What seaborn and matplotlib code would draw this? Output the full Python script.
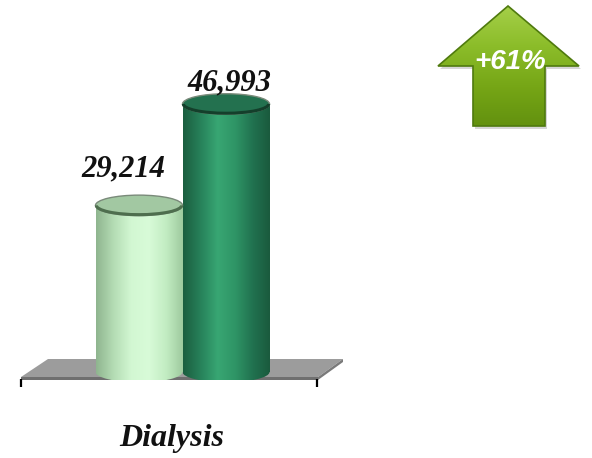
import numpy as np
import pandas as pd
import matplotlib
matplotlib.use("Agg")
import matplotlib.pyplot as plt
import seaborn as sns
from matplotlib.patches import Ellipse, Polygon, Arc
from matplotlib.colors import LinearSegmentedColormap

# ---- data ----
category = ["Dialysis", "Dialysis"]
period = ["Before", "After"]
cases = [29214, 46993]
value_labels = ["29,214", "46,993"]
change_label = "+61%"

df = pd.DataFrame({"group": category, "period": period, "cases": cases})

sns.set_theme(style="white")
plt.rcParams["font.family"] = ["Liberation Serif", "DejaVu Serif"]

W, H = 592, 458
fig = plt.figure(figsize=(W / 100, H / 100), dpi=100)
fig.patch.set_facecolor("white")

# pixel-space helper axes (background floor / foreground arrow)
bg = fig.add_axes([0, 0, 1, 1], zorder=0)
bg.set_xlim(0, W)
bg.set_ylim(H, 0)
bg.axis("off")

# floor of the 3-D plot area
floor = Polygon([(21, 377), (318, 377), (343, 359), (48, 359)],
                closed=True, facecolor="#9c9c9c", edgecolor="none")
bg.add_patch(floor)
bg.add_patch(Polygon([(21, 377), (318, 377), (318, 380), (21, 380)],
                     closed=True, facecolor="#6f6f6f", edgecolor="none"))
bg.add_patch(Polygon([(318, 377), (343, 359), (343, 362), (318, 380)],
                     closed=True, facecolor="#7a7a7a", edgecolor="none"))
for tx in (21, 317):
    bg.plot([tx, tx], [379, 387], color="black", lw=1.6, solid_capstyle="butt")

# main chart axes
ax = fig.add_axes([22 / W, (H - 380) / H, 300 / W, 350 / H], zorder=1)
ax.patch.set_alpha(0)
sns.barplot(data=df, x="group", y="cases", hue="period",
            palette=["#c8f0c8", "#2f9565"], width=0.58, dodge=True,
            legend=False, ax=ax, zorder=2)
ax.set_xlim(-0.535, 0.465)
ax.set_ylim(-1403, 59968)
for s in ax.spines.values():
    s.set_visible(False)
ax.set_yticks([])
ax.set_xticks([])
ax.set_ylabel("")
ax.set_xlabel("Dialysis", fontsize=23, fontstyle="italic", fontweight="bold",
              labelpad=32, color="#111111")

cmaps = [
    LinearSegmentedColormap.from_list(
        "light", ["#8fb58f", "#b4dcb4", "#d2f7d2", "#d8fbd8", "#c2ecc2", "#9cc89c"]),
    LinearSegmentedColormap.from_list(
        "dark", ["#1b5e3f", "#27815a", "#38a673", "#2f9566", "#217250", "#1a5a3d"]),
]
cap_face = ["#a2c8a2", "#23714f"]
cap_rim = ["#4e6e4e", "#143f2b"]
cap_h = 3600
grad = np.linspace(0, 1, 256).reshape(1, -1)

bars = [p for p in ax.patches if p.get_height() > 0]
bars.sort(key=lambda p: p.get_x())
for i, bar in enumerate(bars):
    x0, w, v = bar.get_x(), bar.get_width(), bar.get_height()
    xc = x0 + w / 2
    bar.set_facecolor("#7f7f7f")
    bar.set_edgecolor("none")
    bottom = Ellipse((xc, 0), w, cap_h, facecolor="none", edgecolor="none")
    ax.add_patch(bottom)
    for clip in (bar, bottom):
        im = ax.imshow(grad, cmap=cmaps[i], aspect="auto",
                       extent=(x0, x0 + w, -cap_h, v), zorder=3,
                       interpolation="bilinear")
        im.set_clip_path(clip)
    ax.add_patch(Ellipse((xc, v), w, cap_h, facecolor=cap_face[i],
                         edgecolor="#7a8a7a", lw=1.0, zorder=4))
    ax.add_patch(Arc((xc, v), w * 0.98, cap_h * 0.9, theta1=190, theta2=350,
                     color=cap_rim[i], lw=2.2, zorder=5))
    ax.set_aspect("auto")

# value labels above the cylinders
offsets = [(-16, 36), (3, 21)]
for bar, lab, (dx, dy) in zip(bars, value_labels, offsets):
    ax.annotate(lab, (bar.get_x() + bar.get_width() / 2, bar.get_height()),
                xytext=(dx, dy), textcoords="offset pixels",
                ha="center", va="center", fontsize=22, fontstyle="italic",
                fontweight="semibold", color="#111111", zorder=6)

# growth arrow
fg = fig.add_axes([0, 0, 1, 1], zorder=3)
fg.set_xlim(0, W)
fg.set_ylim(H, 0)
fg.axis("off")
arrow_pts = [(508, 6), (579, 66), (545, 66), (545, 126),
             (473, 126), (473, 66), (438, 66)]
shadow = Polygon([(x + 2, y + 3) for x, y in arrow_pts], closed=True,
                 facecolor="#bbbbbb", edgecolor="none", alpha=0.6)
fg.add_patch(shadow)
arrow = Polygon(arrow_pts, closed=True, facecolor="none",
                edgecolor="#4f7a0e", lw=1.2)
fg.add_patch(arrow)
agrad = np.linspace(0, 1, 256).reshape(-1, 1)
acmap = LinearSegmentedColormap.from_list(
    "arrow", ["#a6d04a", "#8cbd2a", "#76a616", "#62900f"])
aim = fg.imshow(agrad, cmap=acmap, aspect="auto",
                extent=(436, 581, 128, 4), interpolation="bilinear", zorder=1)
aim.set_clip_path(arrow)
arrow.set_zorder(2)
fg.set_xlim(0, W)
fg.set_ylim(H, 0)
fg.text(510, 62, change_label, ha="center", va="center", fontsize=20,
        fontweight="bold", fontstyle="italic", color="white",
        family=["Liberation Sans", "DejaVu Sans"], zorder=3)

fig.savefig("out.png", dpi=100, facecolor="white")
